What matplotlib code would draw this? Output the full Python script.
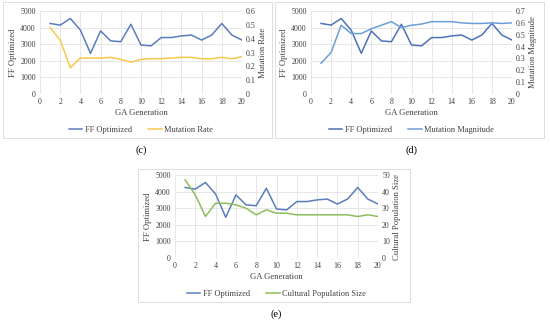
import matplotlib.pyplot as plt
from matplotlib.patches import Rectangle

plt.rcParams['font.family'] = ['Liberation Serif', 'DejaVu Serif']

generation = list(range(1, 21))
ff_optimized = [4250, 4150, 4550, 3850, 2450, 3800, 3200, 3150, 4200, 2950,
                2900, 3400, 3400, 3500, 3550, 3250, 3550, 4250, 3550, 3250]
mutation_rate = [0.48, 0.39, 0.19, 0.26, 0.26, 0.26, 0.265, 0.25, 0.23, 0.25,
                 0.255, 0.255, 0.26, 0.265, 0.265, 0.255, 0.255, 0.265, 0.255, 0.27]
mutation_magnitude = [0.26, 0.35, 0.58, 0.51, 0.51, 0.55, 0.58, 0.61, 0.56, 0.58,
                      0.59, 0.61, 0.61, 0.61, 0.60, 0.595, 0.595, 0.60, 0.595, 0.60]
population_size = [47, 38, 25, 33, 33, 32, 30, 26, 29, 27,
                   27, 26, 26, 26, 26, 26, 26, 25, 26, 25]

W, H = 550, 322
GRID = '#e3e3e3'
FS = 5.7


def px_axes(fig, x0, x1, y0, y1):
	# pixel box (top-left origin) -> figure coords
	return fig.add_axes([x0 / W, (H - y1) / H, (x1 - x0) / W, (y1 - y0) / H])


def panel(fig, box, plot, second, ff_color, sec_color, sec_label, sec_max, sec_step, sec_fmt, tag):
	bx0, by0, bx1, by1 = box
	fig.patches.append(Rectangle((bx0 / W, (H - by1) / H), (bx1 - bx0) / W, (by1 - by0) / H,
		transform=fig.transFigure, fill=False, edgecolor='#d9d9d9', linewidth=0.6))

	ax = px_axes(fig, *plot)
	ax.plot(generation, ff_optimized, color=ff_color, linewidth=1.1, label='FF Optimized')
	ax.set_xlim(0, 20)
	ax.set_ylim(0, 5000)
	ax.set_xticks(range(0, 21, 2))
	ax.set_yticks(range(0, 5001, 1000))
	ax.grid(True, color=GRID, linewidth=0.6)
	ax.set_axisbelow(True)
	for s in ax.spines.values():
		s.set_visible(False)
	ax.tick_params(length=0, labelsize=FS, colors='#404040', pad=3)
	ax.set_xlabel('GA Generation', fontsize=6.2, color='#404040', labelpad=2)
	ax.set_ylabel('FF Optimized', fontsize=6.2, color='#404040', labelpad=2)

	ax2 = ax.twinx()
	ax2.plot(generation, second, color=sec_color, linewidth=1.1, label=sec_label)
	ax2.set_ylim(0, sec_max)
	n = int(round(sec_max / sec_step))
	ticks = [i * sec_step for i in range(n + 1)]
	ax2.set_yticks(ticks)
	ax2.set_yticklabels([sec_fmt(t) for t in ticks])
	for s in ax2.spines.values():
		s.set_visible(False)
	ax2.tick_params(length=0, labelsize=FS, colors='#404040', pad=3)
	ax2.set_ylabel(sec_label, fontsize=6.2, color='#404040', labelpad=2)

	h1, l1 = ax.get_legend_handles_labels()
	h2, l2 = ax2.get_legend_handles_labels()
	cx = (plot[0] + plot[1]) / 2
	fig.legend(h1 + h2, l1 + l2, loc='center', ncol=2, frameon=False,
		bbox_to_anchor=(cx / W, (H - (plot[3] + 36)) / H),
		fontsize=6, handlelength=1.6, handletextpad=0.3, columnspacing=2.0,
		labelcolor='#404040')
	fig.text(cx / W, (H - (by1 + 12)) / H, tag, ha='center', va='center', fontsize=7.5)


fig = plt.figure(figsize=(5.5, 3.22), dpi=100)

panel(fig, (3, 2, 272, 138), (40, 242, 11, 94), mutation_rate,
	'#5b7dbd', '#f7c94a', 'Mutation Rate', 0.6, 0.1,
	lambda t: '0' if t == 0 else f'{t:.1f}', '(c)')
panel(fig, (275, 2, 544, 138), (311, 512, 11, 94), mutation_magnitude,
	'#4f72b8', '#6b9fd6', 'Mutation Magnitude', 0.7, 0.1,
	lambda t: '0' if t == 0 else f'{t:.1f}', '(d)')
panel(fig, (138, 169, 410, 302), (175, 378, 175, 258), population_size,
	'#5b7dbd', '#8cbd5c', 'Cultural Population Size', 50, 10,
	lambda t: f'{int(t)}', '(e)')

fig.savefig('out.png', dpi=100)
